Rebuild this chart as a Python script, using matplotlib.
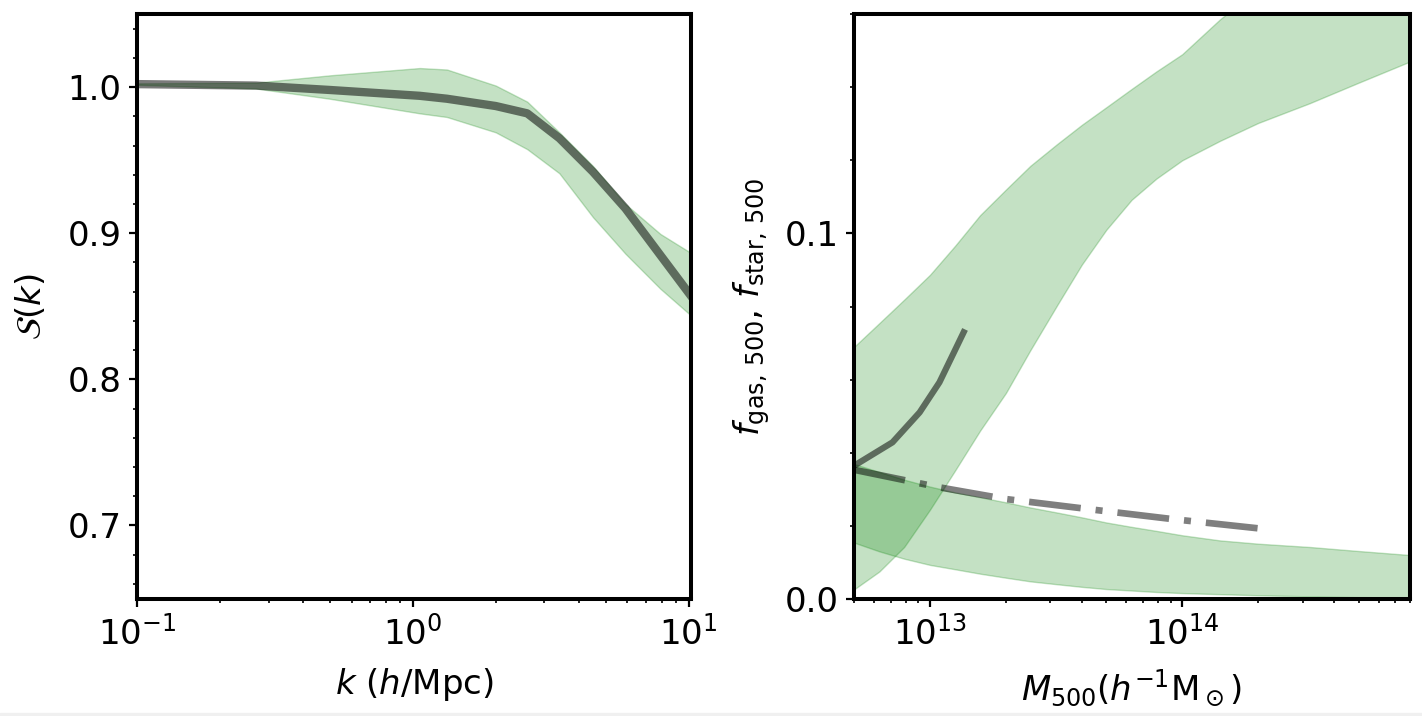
import matplotlib
matplotlib.use('Agg')
import matplotlib.pyplot as plt
from matplotlib.ticker import MultipleLocator
from matplotlib.patches import Rectangle

# suppression of the matter power spectrum, S(k)
k_vals = [0.1, 0.27, 0.5, 1.06, 1.33, 2.0, 2.6, 3.4, 4.5, 5.9, 7.9, 10.3]
s_mean = [1.002, 1.001, 0.998, 0.994, 0.992, 0.987, 0.982, 0.965, 0.942, 0.917, 0.885, 0.856]
s_hi = [1.0025, 1.003, 1.008, 1.013, 1.012, 1.001, 0.990, 0.969, 0.946, 0.920, 0.8995, 0.886]
s_lo = [1.0015, 0.999, 0.992, 0.982, 0.9795, 0.969, 0.9575, 0.941, 0.911, 0.886, 0.862, 0.843]

# gas / stellar fractions vs halo mass
m500 = [5.0e12, 6.3e12, 7.9e12, 1.0e13, 1.26e13, 1.58e13, 2.0e13, 2.5e13, 3.2e13, 4.0e13,
        5.0e13, 6.3e13, 7.9e13, 1.0e14, 1.41e14, 2.0e14, 3.2e14, 5.0e14, 8.0e14]
fgas_hi = [0.069, 0.0755, 0.0819, 0.0887, 0.0967, 0.105, 0.112, 0.1185, 0.1245, 0.1297,
           0.1345, 0.1395, 0.1443, 0.149, 0.1585, 0.167, 0.176, 0.183, 0.189]
fgas_lo = [0.0027, 0.0076, 0.0143, 0.0245, 0.0353, 0.0461, 0.0564, 0.0681, 0.0805, 0.0915,
           0.1010, 0.1092, 0.1150, 0.1200, 0.1253, 0.1302, 0.1356, 0.1412, 0.147]
fstar_hi = [0.037, 0.0348, 0.0327, 0.0308, 0.0292, 0.0279, 0.0265, 0.0251, 0.0237, 0.0224,
            0.0210, 0.0198, 0.0187, 0.0175, 0.0161, 0.0152, 0.0143, 0.0132, 0.0121]
fstar_lo = [0.0155, 0.0131, 0.0111, 0.0094, 0.0082, 0.0070, 0.0059, 0.0049, 0.0041, 0.0034,
            0.0028, 0.0024, 0.0020, 0.0017, 0.0014, 0.0011, 0.0008, 0.0006, 0.0005]

m_gas_obs = [5.0e12, 7.1e12, 9.1e12, 1.09e13, 1.36e13]
f_gas_obs = [0.0365, 0.0429, 0.0511, 0.0593, 0.0730]
m_star_obs = [5.0e12, 1.09e13, 2.0e13, 4.56e13, 9.2e13, 2.0e14]
f_star_obs = [0.0354, 0.0306, 0.0274, 0.0244, 0.0219, 0.0194]

plt.rcParams['font.size'] = 24.5
plt.rcParams['mathtext.fontset'] = 'dejavusans'

fig = plt.figure(figsize=(14.22, 7.16), dpi=100)
ax1 = fig.add_axes([0.0963, 0.164, 0.3896, 0.8165])
ax2 = fig.add_axes([0.6006, 0.163, 0.391, 0.8175])

band = dict(color='green', alpha=0.23)

# left panel
ax1.fill_between(k_vals, s_lo, s_hi, **band)
ax1.plot(k_vals, s_mean, color='k', alpha=0.52, lw=6)
ax1.set_xscale('log')
ax1.set_xlim(0.1, 10.2)
ax1.set_ylim(0.65, 1.05)
ax1.yaxis.set_major_locator(MultipleLocator(0.1))
ax1.yaxis.set_minor_locator(MultipleLocator(0.02))
ax1.set_xlabel(r'$k$ ($h$/Mpc)', labelpad=11)
ax1.set_ylabel(r'$\mathcal{S}(k)$', labelpad=14)

# right panel
ax2.fill_between(m500, fgas_lo, fgas_hi, **band)
ax2.fill_between(m500, fstar_lo, fstar_hi, **band)
ax2.plot(m_gas_obs, f_gas_obs, color='k', alpha=0.52, lw=4.5)
ax2.plot(m_star_obs, f_star_obs, color='k', alpha=0.5, lw=4.8,
         dashes=(7.8, 2.25, 1.05, 2.25))
ax2.set_xscale('log')
ax2.set_xlim(5e12, 8e14)
ax2.set_ylim(0, 0.16)
ax2.yaxis.set_major_locator(MultipleLocator(0.1))
ax2.yaxis.set_minor_locator(MultipleLocator(0.02))
ax2.set_xlabel(r'$M_{500}(h^{-1}{\rm M}_\odot)$', labelpad=11)
ax2.set_ylabel(r'$f_{\rm gas,\,500}$, $f_{\rm star,\,500}$', labelpad=9)

for ax in (ax1, ax2):
    for sp in ax.spines.values():
        sp.set_linewidth(2.9)
    ax.tick_params(which='major', length=6, width=1.6)
    ax.tick_params(which='minor', length=3.2, width=1.2)
    ax.tick_params(axis='y', which='major', pad=5)
    ax.tick_params(axis='x', which='major', pad=6)

# screenshot bottom strip
fig.patches.append(Rectangle((0, 0), 1, 3 / 716, transform=fig.transFigure,
                             color='#f0f0f0', zorder=-1))

fig.savefig('out.png', dpi=100)
